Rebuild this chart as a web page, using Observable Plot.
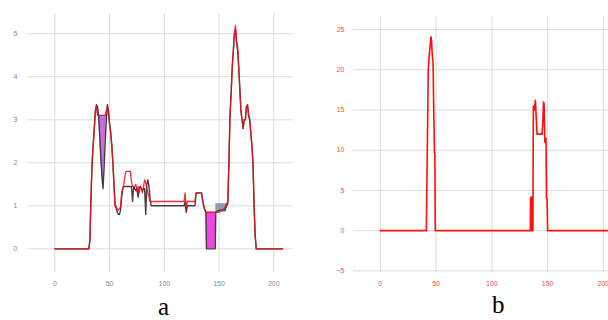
<!DOCTYPE html>
<html>
<head>
<meta charset="utf-8">
<script src="https://cdn.jsdelivr.net/npm/d3@7"></script>
<script src="https://cdn.jsdelivr.net/npm/@observablehq/plot@0.6"></script>
<style>
  html, body { margin: 0; padding: 0; background: #fff; width: 608px; height: 320px; overflow: hidden; }
  #wrap { position: relative; width: 608px; height: 320px; overflow: hidden; }
  .panel { position: absolute; top: 0; }
  .panel svg { max-width: none !important; }
  .cap { position: absolute; font-family: "Liberation Serif", "DejaVu Serif", serif; font-size: 25px; color: #000; line-height: 1; }
</style>
</head>
<body>
<div id="wrap">
  <div id="pa" class="panel" style="left:0px; width:300px"></div>
  <div id="pb" class="panel" style="left:300px; width:330px"></div>
  <div class="cap" style="left:158px; top:294px">a</div>
  <div class="cap" style="left:492px; top:292px">b</div>
</div>
<script>
// ---- Panel a ----
const aX = [0,31,32,33,34,35,36,37,38,39,40,41,42,43,44,45,46,47,48,49,50,51,52,53,54,55,56,57,58,59,60,61,62,63,64,65,66,67,68,69,70,71,72,73,74,75,76,77,78,79,80,81,82,83,84,85,86,87,88,100,110,118,119,120,121,128,129,134,135,136,137,138,138.5,146.5,147,150,155,157,158,159,160,161,162,163,164,165,166,167,168,169,170,171,172,173,174,175,176,177,178,179,180,181,182,183,184,208];
const aRed = [0,0,0.2,1.2,2.0,2.4,2.8,3.2,3.3,3.1,3.1,3.1,3.1,3.1,3.1,3.1,3.1,3.2,3.3,3.1,2.9,2.7,2.4,2.0,1.5,1.0,1.0,0.9,0.9,0.95,0.95,1.3,1.4,1.5,1.7,1.8,1.8,1.8,1.8,1.8,1.55,1.45,1.45,1.45,1.5,1.35,1.45,1.3,1.45,1.4,1.3,1.45,1.6,1.55,1.4,1.3,1.2,1.1,1.1,1.1,1.1,1.1,1.3,0.9,1.1,1.1,1.3,1.3,1.15,1.0,0.9,0.85,0.85,0.85,0.85,0.85,0.95,1.05,1.1,2.0,3.1,3.6,4.2,4.6,5.0,5.2,4.8,4.7,4.2,3.7,3.2,3.0,2.8,3.0,3.0,3.3,3.35,3.1,3.0,2.7,2.4,2.0,1.0,0.3,0,0];
const aDark = [0,0,0.2,1.2,2.0,2.4,2.8,3.2,3.35,3.3,3.1,2.6,2.1,1.7,1.4,1.9,2.5,3.0,3.35,3.2,2.9,2.7,2.4,2.0,1.5,1.0,0.95,0.85,0.8,0.8,0.9,1.2,1.4,1.45,1.45,1.45,1.45,1.45,1.45,1.45,1.45,1.1,1.45,1.4,1.35,1.4,1.2,1.4,1.45,1.4,1.35,1.4,1.4,0.8,1.5,1.6,1.45,1.15,1.0,1.0,1.0,1.0,1.1,0.85,1.0,1.0,1.3,1.3,1.1,1.0,0.9,0.85,0,0,0.85,0.9,0.9,1.0,1.05,2.0,3.1,3.6,4.2,4.6,5.0,5.1,4.8,4.6,4.2,3.7,3.2,3.0,2.8,3.0,3.0,3.3,3.35,3.1,3.0,2.7,2.4,2.0,1.0,0.3,0,0];
const blueX = [147,157];
const blueTop = [1.05,1.05];
const blueBottom = [0.85,0.85];
const aXTicks = [0,50,100,150,200];
const aYTicks = [0,1,2,3,4,5];

// ---- Panel b ----
const bX = [0,41.3,41.6,42,42.5,43,44,45,45.5,46,46.5,47.3,47.9,48.3,48.5,48.9,49.3,134.5,134.7,135.5,135.7,136.8,137.2,138,139,140.5,141,145,145.5,146.3,146.8,147.5,148.5,149,149.5,150,218];
const bY = [0,0,4,8.5,14,20,22,23.5,24.1,23.5,22,21,15.3,12,9.7,9.7,0,0,4,4.2,0,0,15.5,15,16.2,12,12,12,13,16,15.8,11,11.5,4,4,0,0];
const bXTicks = [0,50,100,150,200];
const bYTicks = [-5,0,5,10,15,20,25];

const A = aX.map((x,i)=>({x, red:aRed[i], dark:aDark[i]}));
const blue = blueX.map((x,i)=>({x, top:blueTop[i], bottom:blueBottom[i]}));
const B = bX.map((x,i)=>({x, y:bY[i]}));

const gridColor = "#dcdcdc";

const pa = Plot.plot({
  width: 300, height: 300,
  marginLeft: 27, marginRight: 7, marginTop: 13, marginBottom: 28,
  style: {fontFamily: "Liberation Sans, Arial, sans-serif", background: "transparent"},
  x: {domain: [-25, 218]},
  y: {domain: [-0.55, 5.47]},
  marks: [
    Plot.gridX(aXTicks, {stroke: gridColor, strokeOpacity: 1, strokeWidth: 1}),
    Plot.gridY(aYTicks, {stroke: gridColor, strokeOpacity: 1, strokeWidth: 1}),
    Plot.axisX(aXTicks, {tickSize: 0, tickPadding: 9, fontSize: 7, fill: "#888", label: null}),
    Plot.axisY(aYTicks, {tickSize: 0, tickPadding: 10, fontSize: 7, fill: "#888", label: null}),
    Plot.areaY(A.filter(d => d.x >= 38 && d.x <= 49), {x: "x", y1: "red", y2: "dark", fill: "#c564e3", fillOpacity: 0.95}),
    Plot.areaY(A.filter(d => d.x >= 138 && d.x <= 147), {x: "x", y1: "red", y2: "dark", fill: "#ee45e4"}),
    Plot.areaY(blue, {x: "x", y1: "top", y2: "bottom", fill: "#7a86a8", fillOpacity: 0.8}),
    Plot.lineY(A, {x: "x", y: "dark", stroke: "#4a3a3e", strokeWidth: 1.4}),
    Plot.lineY(A, {x: "x", y: "red", stroke: "#e3141c", strokeWidth: 1.3, strokeOpacity: 0.85})
  ]
});
document.getElementById("pa").appendChild(pa);

const pb = Plot.plot({
  width: 330, height: 300,
  marginLeft: 53, marginRight: 7, marginTop: 17, marginBottom: 28,
  style: {fontFamily: "Liberation Sans, Arial, sans-serif", background: "transparent"},
  x: {domain: [-24, 218]},
  y: {domain: [-5.2, 26.5]},
  marks: [
    Plot.gridX(bXTicks, {stroke: gridColor, strokeOpacity: 1, strokeWidth: 1}),
    Plot.gridY(bYTicks, {stroke: gridColor, strokeOpacity: 1, strokeWidth: 1}),
    Plot.axisX(bXTicks, {tickSize: 0, tickPadding: 9, fontSize: 7, fill: "#f05050", label: null}),
    Plot.axisY(bYTicks, {tickSize: 0, tickPadding: 9, fontSize: 7, fill: "#f05050", label: null}),
    Plot.lineY(B, {x: "x", y: "y", stroke: "#ff1010", strokeWidth: 1.6, clip: true})
  ]
});
document.getElementById("pb").appendChild(pb);
</script>
</body>
</html>
